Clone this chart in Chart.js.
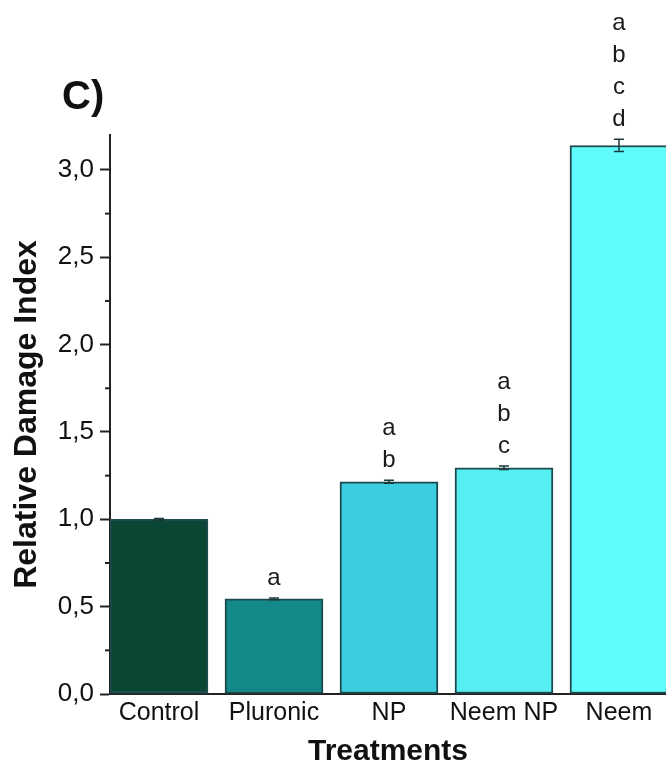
<!DOCTYPE html>
<html lang="en">
<head>
  <meta charset="UTF-8">
  <title>Relative Damage Index</title>
  <script src="https://cdn.jsdelivr.net/npm/chart.js"></script>
  <style>
    body {
      margin: 0;
      background: #fff;
      overflow: hidden;
    }
  </style>
</head>
<body>
  <canvas id="damageChart" width="666" height="775"></canvas>

  <script>
    // Data
    const treatments = ['Control', 'Pluronic', 'NP', 'Neem NP', 'Neem'];
    const damageIndex = [1.0, 0.545, 1.215, 1.295, 3.14];
    const errors = [0.005, 0.005, 0.008, 0.01, 0.035];
    const letters = [[], ['a'], ['a', 'b'], ['a', 'b', 'c'], ['a', 'b', 'c', 'd']];
    const yTicks = [0, 0.5, 1.0, 1.5, 2.0, 2.5, 3.0];
    const barColors = ['#0b4634', '#14898a', '#3ccde0', '#55eff2', '#60fcfc'];

    const FONT = "'Liberation Sans', Arial, sans-serif";

    // error bars, significance letters, minor ticks and panel label
    const extras = {
      id: 'extras',
      afterDatasetsDraw(chart) {
        const ctx = chart.ctx;
        const x = chart.scales.x;
        const y = chart.scales.y;
        ctx.save();

        // error bars
        ctx.strokeStyle = '#1a3a3a';
        ctx.lineWidth = 1.5;
        damageIndex.forEach((v, i) => {
          const px = x.getPixelForValue(i + 1);
          const top = y.getPixelForValue(v + errors[i]);
          const bot = y.getPixelForValue(v - errors[i]);
          ctx.beginPath();
          ctx.moveTo(px, top); ctx.lineTo(px, bot);
          ctx.moveTo(px - 5, top); ctx.lineTo(px + 5, top);
          ctx.moveTo(px - 5, bot); ctx.lineTo(px + 5, bot);
          ctx.stroke();
        });

        // letters stacked above each bar
        ctx.fillStyle = '#1a1a1a';
        ctx.font = '24px ' + FONT;
        ctx.textAlign = 'center';
        ctx.textBaseline = 'middle';
        letters.forEach((list, i) => {
          const px = x.getPixelForValue(i + 1);
          const top = y.getPixelForValue(damageIndex[i] + errors[i]);
          list.slice().reverse().forEach((ch, k) => {
            ctx.fillText(ch, px, top - 20 - k * 32);
          });
        });

        // minor ticks
        ctx.strokeStyle = '#222';
        ctx.lineWidth = 2;
        for (let v = 0.25; v < 3.2; v += 0.5) {
          const py = y.getPixelForValue(v);
          ctx.beginPath();
          ctx.moveTo(y.right - 5, py);
          ctx.lineTo(y.right, py);
          ctx.stroke();
        }

        // panel label
        ctx.fillStyle = '#111';
        ctx.font = 'bold 40px ' + FONT;
        ctx.textAlign = 'left';
        ctx.textBaseline = 'alphabetic';
        ctx.fillText('C)', 62, 109);
        ctx.restore();
      }
    };

    const ctx = document.getElementById('damageChart').getContext('2d');
    new Chart(ctx, {
      type: 'bar',
      data: {
        datasets: [{
          data: damageIndex.map((v, i) => ({ x: i + 1, y: v })),
          backgroundColor: barColors,
          borderColor: '#1d4a4c',
          borderWidth: 2,
          borderSkipped: false,
          barThickness: 98
        }]
      },
      options: {
        responsive: false,
        animation: false,
        layout: {
          padding: { top: 135, right: 0, left: 0, bottom: 0 }
        },
        plugins: {
          legend: { display: false },
          tooltip: { enabled: false }
        },
        scales: {
          x: {
            type: 'linear',
            offset: false,
            min: 0.574,
            max: 5.409,
            afterBuildTicks: scale => {
              scale.ticks = treatments.map((t, i) => ({ value: i + 1 }));
            },
            afterFit: scale => { scale.height = 81; },
            ticks: {
              callback: v => treatments[v - 1],
              color: '#111',
              font: { family: FONT, size: 25 },
              padding: 4,
              maxRotation: 0,
              autoSkip: false
            },
            grid: { display: false, drawTicks: false, offset: false },
            border: { display: true, color: '#222', width: 2 },
            title: {
              display: true,
              text: 'Treatments',
              color: '#111',
              font: { family: FONT, size: 30, weight: 'bold' },
              padding: { top: 0, bottom: 5 }
            }
          },
          y: {
            min: 0,
            max: 3.2,
            afterBuildTicks: scale => {
              scale.ticks = yTicks.map(v => ({ value: v }));
            },
            afterFit: scale => { scale.width = 110; },
            ticks: {
              callback: v => v.toFixed(1).replace('.', ','),
              color: '#111',
              font: { family: FONT, size: 26 },
              padding: 6
            },
            grid: {
              drawOnChartArea: false,
              drawTicks: true,
              tickLength: 10,
              tickWidth: 2,
              color: '#222'
            },
            border: { display: true, color: '#222', width: 2 },
            title: {
              display: true,
              text: 'Relative Damage Index',
              color: '#111',
              font: { family: FONT, size: 32, weight: 'bold' },
              padding: { top: 8, bottom: 0 }
            }
          }
        }
      },
      plugins: [extras]
    });
  </script>
</body>
</html>
